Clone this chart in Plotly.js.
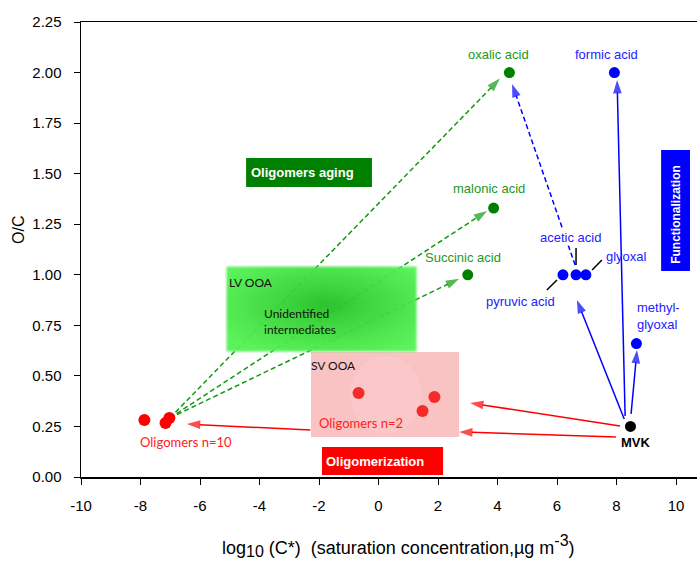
<!DOCTYPE html>
<html>
<head>
<meta charset="utf-8">
<script src="https://cdn.plot.ly/plotly-3.0.1.min.js"></script>
<style>html,body{margin:0;padding:0;background:#fff;}#chart{width:697px;height:561px;}</style>
</head>
<body>
<div id="chart"></div>
<script>
// ---- data ----
const acidNames = ['oxalic acid', 'malonic acid', 'Succinic acid'];
const acidX = [4.40, 3.87, 3.00];
const acidY = [2.00, 1.33, 1.00];

const funcNames = ['formic acid', 'pyruvic acid', 'acetic acid', 'glyoxal', 'methyl-glyoxal'];
const funcX = [7.93, 6.20, 6.64, 6.97, 8.67];
const funcY = [2.00, 1.00, 1.00, 1.00, 0.66];

const mvkX = [8.47];
const mvkY = [0.25];

const olig10X = [-7.87, -7.16, -7.03];
const olig10Y = [0.282, 0.267, 0.292];

const olig2X = [-0.67, 1.88, 1.48];
const olig2Y = [0.415, 0.396, 0.326];

const xTicks = [-10, -8, -6, -4, -2, 0, 2, 4, 6, 8, 10];
const xTickText = ['-10', '-8', '-6', '-4', '-2', '0', '2', '4', '6', '8', '10'];
const yTicks = [0, 0.25, 0.5, 0.75, 1.0, 1.25, 1.5, 1.75, 2.0, 2.25];
const yTickText = ['0.00', '0.25', '0.50', '0.75', '1.00', '1.25', '1.50', '1.75', '2.00', '2.25'];

// arrows: aging (green dashed), acid->oxalic (blue dashed), functionalization (blue), oligomerization (red)
const agingFromX = [-7.01, -7.01, -7.01];
const agingFromY = [0.292, 0.292, 0.292];
const agingToX = [4.08, 3.65, 2.71];
const agingToY = [1.970, 1.316, 0.980];

const acetToOxFromX = [6.61], acetToOxFromY = [1.048];
const acetToOxToX = [4.49], acetToOxToY = [1.944];

const funcFromX = [8.29, 8.49, 8.26];
const funcFromY = [0.302, 0.312, 0.287];
const funcToX = [8.02, 8.69, 6.67];
const funcToY = [1.963, 0.628, 0.875];

const oligoFromX = [8.12, 7.98, -2.29];
const oligoFromY = [0.252, 0.198, 0.232];
const oligoToX = [3.08, 2.71, -6.44];
const oligoToY = [0.366, 0.223, 0.262];

const leadFromX = [6.64, 7.51, 6.00];
const leadFromY = [1.133, 1.073, 0.974];
const leadToX = [6.64, 7.18, 5.66];
const leadToY = [1.048, 1.024, 0.925];

// ---- traces ----
const traces = [];
function arrowTraces(fx, fy, tx, ty, color, dash, head) {
  for (let i = 0; i < fx.length; i++) {
    const t = {
      type: 'scatter', mode: head ? 'lines+markers' : 'lines',
      x: [fx[i], tx[i]], y: [fy[i], ty[i]],
      line: {color: color, width: 1.5, dash: dash},
      hoverinfo: 'skip', showlegend: false
    };
    if (head) t.marker = {symbol: ['circle', 'arrow'], size: [0, 14], color: color, angleref: 'previous', line: {width: 0}};
    traces.push(t);
  }
}
arrowTraces(agingFromX, agingFromY, agingToX, agingToY, '#119911', '5px,3px', true);
arrowTraces(acetToOxFromX, acetToOxFromY, acetToOxToX, acetToOxToY, '#0000ff', '5px,3px', true);
arrowTraces(funcFromX, funcFromY, funcToX, funcToY, '#0000ff', 'solid', true);
arrowTraces(oligoFromX, oligoFromY, oligoToX, oligoToY, '#ff0000', 'solid', true);
arrowTraces(leadFromX, leadFromY, leadToX, leadToY, '#000000', 'solid', false);

traces.push({type: 'scatter', mode: 'markers', x: acidX, y: acidY, text: acidNames,
  marker: {color: '#008000', size: 11}, hoverinfo: 'text', showlegend: false});
traces.push({type: 'scatter', mode: 'markers', x: funcX, y: funcY, text: funcNames,
  marker: {color: '#0000ff', size: 11}, hoverinfo: 'text', showlegend: false});
traces.push({type: 'scatter', mode: 'markers', x: mvkX, y: mvkY,
  marker: {color: '#000000', size: 11}, hoverinfo: 'skip', showlegend: false});
traces.push({type: 'scatter', mode: 'markers', x: olig10X, y: olig10Y,
  marker: {color: '#ff0000', size: 12}, hoverinfo: 'skip', showlegend: false});
traces.push({type: 'scatter', mode: 'markers', x: olig2X, y: olig2Y,
  marker: {color: '#f52a2a', size: 12}, hoverinfo: 'skip', showlegend: false});

// ---- LV OOA gradient box (image) ----
function svgURI(s) { return 'data:image/svg+xml;charset=utf-8,' + encodeURIComponent(s); }
const lvSvg = '<svg xmlns="http://www.w3.org/2000/svg" width="193" height="88" viewBox="0 0 193 88">' +
  '<defs><radialGradient id="g" cx="0.52" cy="0.45" r="0.62">' +
  '<stop offset="0" stop-color="#22c022"/><stop offset="0.45" stop-color="#3ad83a"/><stop offset="1" stop-color="#52f252"/></radialGradient>' +
  '<filter id="b" x="-0.1" y="-0.1" width="1.2" height="1.2"><feGaussianBlur stdDeviation="1.2"/></filter></defs>' +
  '<rect x="1.5" y="1.5" width="190" height="85" fill="url(#g)" filter="url(#b)"/></svg>';

const images = [
  {source: svgURI(lvSvg), xref: 'x', yref: 'y', x: -5.16, y: 1.048, sizex: 6.49, sizey: 0.435,
   xanchor: 'left', yanchor: 'top', sizing: 'stretch', layer: 'above', opacity: 0.95}
];

const shapes = [
  // SV OOA pink box with lighter centre
  {type: 'rect', xref: 'x', yref: 'y', x0: -2.27, x1: 2.71, y0: 0.198, y1: 0.618, fillcolor: '#f9c3c3', line: {width: 0}, layer: 'below'},
  {type: 'circle', xref: 'x', yref: 'y', x0: -0.95, x1: 1.45, y0: 0.215, y1: 0.60, fillcolor: '#fac8c8', line: {width: 0}, layer: 'below'},
  {type: 'rect', xref: 'x', yref: 'y', x0: -4.45, x1: -0.22, y0: 1.434, y1: 1.578, fillcolor: '#008000', line: {width: 0}},
  {type: 'rect', xref: 'x', yref: 'y', x0: -1.90, x1: 2.17, y0: 0.010, y1: 0.148, fillcolor: '#ff0000', line: {width: 0}},
  {type: 'rect', xref: 'x', yref: 'y', x0: 9.50, x1: 10.47, y0: 1.019, y1: 1.617, fillcolor: '#0000ff', line: {width: 0}}
];

const AR = 'Liberation Sans';
const CAL = 'Lato';
const green = '#229922', blue = '#2222ff';
function lab(text, x, y, color, size, family, extra) {
  return Object.assign({text: text, x: x, y: y, xref: 'x', yref: 'y', showarrow: false,
    xanchor: 'center', yanchor: 'middle',
    font: {color: color, size: size, family: family}}, extra || {});
}
const annotations = [
  lab(acidNames[0], 4.02, 2.087, green, 13, AR),
  lab(acidNames[1], 3.71, 1.429, green, 13, AR),
  lab(acidNames[2], 2.84, 1.083, green, 13, AR),
  lab(funcNames[0], 7.65, 2.087, blue, 13, AR),
  lab(funcNames[2], 6.47, 1.182, blue, 13, AR, {bgcolor: '#ffffff', borderpad: 0}),
  lab(funcNames[3], 8.35, 1.088, blue, 13, AR),
  lab(funcNames[1], 4.76, 0.870, blue, 13, AR),
  lab('methyl-<br>glyoxal', 8.62, 0.796, blue, 13, AR, {align: 'left', xanchor: 'left'}),
  lab('<b>MVK</b>', 8.66, 0.173, '#000000', 13, AR),
  lab('Oligomers n=10', -6.48, 0.173, '#ff2020', 13, CAL),
  lab('Oligomers n=2', -0.59, 0.267, '#ff2020', 13, CAL),
  lab('SV OOA', -1.50, 0.549, '#111111', 12, CAL),
  lab('LV OOA', -4.29, 0.964, '#111111', 12, CAL),
  lab('Unidentified<br>intermediates', -3.90, 0.771, '#111111', 12, CAL, {align: 'left', xanchor: 'left'}),
  lab('<b>Oligomers aging</b>', -2.56, 1.506, '#ffffff', 13, AR),
  lab('<b>Oligomerization</b>', -0.12, 0.079, '#ffffff', 13, AR),
  lab('<b>Functionalization</b>', 9.99, 1.30, '#ffffff', 12, AR, {textangle: -90}),
  {text: 'log<sub><span style="font-size:16px">10</span></sub> (C*) \u00a0(saturation concentration,µg m<sup><span style="font-size:16px">-3</span></sup>)',
   xref: 'paper', yref: 'paper', x: 0.515, y: -0.152, xanchor: 'center', yanchor: 'middle', showarrow: false,
   font: {size: 18, family: AR, color: '#000'}},
  {text: 'O/C', xref: 'paper', yref: 'paper', x: -0.1006, y: 0.543, xanchor: 'center', yanchor: 'middle',
   showarrow: false, textangle: -90, font: {size: 16, family: AR, color: '#000'}}
];

const layout = {
  width: 697, height: 561,
  margin: {l: 81, r: 0, t: 22, b: 84},
  paper_bgcolor: '#ffffff', plot_bgcolor: 'rgba(0,0,0,0)',
  showlegend: false,
  xaxis: {range: [-10, 10.706], tickvals: xTicks, ticktext: xTickText, ticks: 'outside', ticklen: 6, tickwidth: 1, tickcolor: '#000',
    showline: true, linecolor: '#000', linewidth: 1.5, mirror: true, showgrid: false, zeroline: false,
    ticklabelstandoff: 8, tickfont: {size: 15, family: AR, color: '#000'}},
  yaxis: {range: [0, 2.25], tickvals: yTicks, ticktext: yTickText, ticks: 'outside', ticklen: 6, tickwidth: 1, tickcolor: '#000',
    showline: true, linecolor: '#000', linewidth: 1.5, showgrid: false, zeroline: false,
    ticklabelstandoff: 9, tickfont: {size: 15, family: AR, color: '#000'}},
  shapes: shapes, images: images, annotations: annotations
};

Plotly.newPlot('chart', traces, layout, {displayModeBar: false, staticPlot: true});
</script>
</body>
</html>
